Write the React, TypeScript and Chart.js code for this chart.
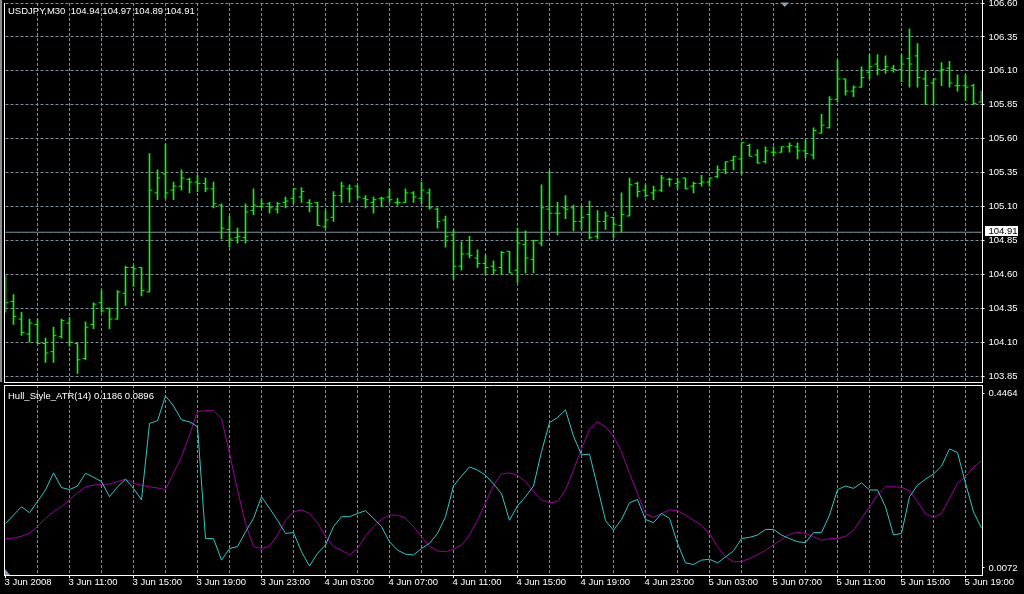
import React, { useEffect, useRef } from "react";
import { Chart, registerables } from "chart.js";
Chart.register(...registerables);

// ---------------- data ----------------
const SYMBOL_TEXT = "USDJPY,M30";
const QUOTE_TEXT = ["104.94", "104.97", "104.89", "104.91"];
const BID = 104.91;

const OPEN = [104.40,104.40,104.27,104.16,104.23,104.09,104.03,104.14,104.24,104.09,
103.98,104.23,104.39,104.35,104.27,104.46,104.65,104.65,104.47,105.20,
105.34,105.22,105.25,105.30,105.28,105.27,105.23,105.11,104.93,104.87,
104.87,105.07,105.10,105.12,105.08,105.13,105.16,105.17,105.13,105.13,
104.95,105.02,105.18,105.23,105.25,105.16,105.13,105.16,105.17,105.13,
105.13,105.20,105.16,105.20,105.08,105.00,104.89,104.66,104.75,104.72,
104.68,104.66,104.65,104.77,104.63,104.82,104.71,104.83,105.08,105.05,
105.09,105.09,104.99,105.04,104.88,104.99,105.02,104.96,105.03,105.27,
105.22,105.20,105.22,105.30,105.27,105.31,105.25,105.27,105.28,105.32,
105.37,105.44,105.45,105.55,105.48,105.43,105.50,105.50,105.54,105.54,
105.51,105.48,105.64,105.68,105.89,106.04,105.95,105.98,106.09,106.15,
106.11,106.12,106.11,106.19,106.21,106.04,106.01,106.10,106.12,105.99,
105.99,105.99,105.87];

const HIGH = [104.59,104.45,104.32,104.27,104.27,104.13,104.21,104.27,104.28,104.09,
104.25,104.39,104.48,104.35,104.48,104.66,104.66,104.65,105.49,105.37,
105.56,105.28,105.37,105.31,105.33,105.31,105.28,105.12,105.03,104.94,
105.12,105.23,105.15,105.13,105.13,105.17,105.23,105.24,105.15,105.13,
105.07,105.21,105.28,105.26,105.25,105.18,105.17,105.17,105.23,105.16,
105.23,105.21,105.28,105.23,105.09,105.03,104.93,104.84,104.88,104.78,
104.74,104.70,104.77,104.77,104.94,104.92,104.85,105.26,105.36,105.13,
105.18,105.11,105.10,105.14,105.07,105.06,105.02,105.20,105.31,105.28,
105.26,105.25,105.33,105.31,105.31,105.31,105.28,105.33,105.31,105.40,
105.43,105.47,105.57,105.56,105.52,105.54,105.54,105.54,105.57,105.57,
105.59,105.68,105.78,105.91,106.18,106.04,105.99,106.13,106.22,106.22,
106.21,106.14,106.22,106.41,106.30,106.10,106.04,106.16,106.17,106.07,
106.07,106.00,105.95];

const LOW = [104.32,104.23,104.15,104.10,104.09,103.95,103.95,104.13,104.07,103.87,
103.97,104.20,104.32,104.20,104.27,104.37,104.51,104.44,104.47,105.15,
105.16,105.15,105.22,105.20,105.21,105.21,105.09,104.86,104.80,104.83,
104.83,105.04,105.09,105.05,105.05,105.09,105.12,105.13,105.06,104.96,
104.94,104.99,105.13,105.13,105.16,105.09,105.05,105.10,105.13,105.11,
105.13,105.13,105.12,105.08,104.94,104.80,104.56,104.63,104.72,104.65,
104.60,104.60,104.60,104.61,104.54,104.61,104.61,104.81,104.93,104.89,
105.01,104.92,104.93,104.86,104.86,104.93,104.87,104.91,105.03,105.17,
105.17,105.15,105.21,105.25,105.23,105.23,105.20,105.25,105.25,105.31,
105.34,105.37,105.34,105.47,105.42,105.42,105.47,105.50,105.50,105.45,
105.46,105.45,105.64,105.68,105.87,105.92,105.91,105.98,106.04,106.07,
106.08,106.09,106.02,105.98,105.98,105.85,105.85,105.99,105.98,105.95,
105.88,105.85,105.87];

const CLOSE = [104.39,104.29,104.17,104.24,104.09,104.02,104.15,104.26,104.10,103.97,
104.21,104.38,104.33,104.27,104.47,104.65,104.64,104.48,105.22,105.31,
105.20,105.25,105.31,105.28,105.27,105.23,105.12,104.94,104.86,104.88,
105.06,105.11,105.12,105.09,105.12,105.14,105.23,105.21,105.12,104.96,
105.00,105.18,105.25,105.23,105.17,105.15,105.15,105.16,105.15,105.13,
105.20,105.17,105.22,105.09,104.99,104.88,104.66,104.75,104.74,104.68,
104.65,104.63,104.76,104.61,104.83,104.72,104.85,105.09,105.05,105.05,
105.08,104.99,105.02,104.87,104.99,105.03,104.97,105.04,105.26,105.21,
105.18,105.22,105.31,105.30,105.28,105.23,105.27,105.28,105.31,105.37,
105.43,105.47,105.57,105.47,105.42,105.51,105.50,105.54,105.55,105.51,
105.49,105.66,105.70,105.89,106.04,105.95,105.98,106.05,106.13,106.11,
106.13,106.11,106.15,106.15,106.05,105.99,106.04,106.11,106.01,105.99,
105.98,105.86,105.92];

const PRICE_TICKS = [103.85, 104.10, 104.35, 104.60, 104.85, 105.10, 105.35, 105.60, 105.85, 106.10, 106.35, 106.60];

const ATR_TITLE = "Hull_Style_ATR(14)";
const ATR_VALUES_TEXT = ["0.1186", "0.0896"];

const ATR_FAST = [0.119,0.140,0.161,0.146,0.174,0.203,0.246,0.209,0.204,0.213,
0.245,0.235,0.224,0.186,0.211,0.230,0.207,0.178,0.370,0.377,
0.439,0.414,0.379,0.374,0.362,0.081,0.081,0.027,0.056,0.061,
0.098,0.132,0.186,0.157,0.127,0.094,0.096,0.048,0.012,0.044,
0.065,0.111,0.136,0.136,0.144,0.151,0.132,0.111,0.073,0.052,
0.042,0.040,0.056,0.069,0.094,0.136,0.213,0.238,0.261,0.253,
0.240,0.218,0.194,0.127,0.163,0.186,0.213,0.299,0.372,0.385,
0.404,0.338,0.291,0.293,0.211,0.126,0.102,0.129,0.171,0.179,
0.129,0.121,0.144,0.132,0.069,0.020,0.016,0.027,0.029,0.020,
0.035,0.050,0.081,0.084,0.090,0.104,0.104,0.090,0.081,0.073,
0.071,0.096,0.096,0.140,0.204,0.213,0.207,0.221,0.203,0.203,
0.161,0.090,0.094,0.186,0.215,0.230,0.243,0.263,0.306,0.297,
0.220,0.148,0.107];

const ATR_SLOW = [0.081,0.082,0.087,0.094,0.111,0.132,0.148,0.161,0.178,0.196,
0.211,0.215,0.217,0.218,0.224,0.230,0.220,0.215,0.211,0.208,
0.204,0.245,0.287,0.341,0.400,0.402,0.402,0.383,0.295,0.203,
0.119,0.061,0.056,0.062,0.090,0.127,0.148,0.153,0.144,0.121,
0.086,0.061,0.052,0.040,0.056,0.087,0.111,0.129,0.140,0.140,
0.132,0.111,0.086,0.062,0.050,0.048,0.054,0.065,0.090,0.127,
0.171,0.215,0.243,0.246,0.240,0.224,0.199,0.178,0.171,0.174,
0.203,0.253,0.307,0.355,0.374,0.362,0.337,0.299,0.245,0.194,
0.144,0.134,0.144,0.153,0.151,0.140,0.127,0.115,0.094,0.061,
0.035,0.023,0.023,0.031,0.040,0.052,0.065,0.079,0.092,0.097,
0.094,0.086,0.077,0.081,0.081,0.087,0.101,0.132,0.161,0.190,
0.211,0.211,0.210,0.201,0.174,0.143,0.134,0.144,0.182,0.220,
0.236,0.260,0.276];

const ATR_TICKS = [0.0072, 0.4464];

const TIME_LABELS = ["3 Jun 2008", "3 Jun 11:00", "3 Jun 15:00", "3 Jun 19:00", "3 Jun 23:00",
  "4 Jun 03:00", "4 Jun 07:00", "4 Jun 11:00", "4 Jun 15:00", "4 Jun 19:00", "4 Jun 23:00",
  "5 Jun 03:00", "5 Jun 07:00", "5 Jun 11:00", "5 Jun 15:00", "5 Jun 19:00"];
const TIME_LABEL_STEP = 8;
const GRID_STEP = 4;

// ---------------- styling / layout ----------------
const FAMILY = '"Liberation Sans", Arial, sans-serif';
const FONT_SIZE = 9.5;
const BAR_COLOR = "#10F010";
const GRID_COLOR = "#7f8c9c";
const BID_COLOR = "#8796a8";
const FAST_COLOR = "#2cc8c4";
const SLOW_COLOR = "#9b009b";
const MARK_COLOR = "#8c9bb0";

const W = 1024;
const MAIN_TOP = -20;
const MAIN_H = 422;
const SUB_TOP = 365;
const SUB_H = 229;
const PLOT_LEFT = 5.5;
const AXIS_W = 42.5;
const PRICE_MIN = 103.806;
const PRICE_MAX = 106.6;
const ATR_MIN = -0.0104;
const ATR_MAX = 0.4665;

const CATEGORIES = OPEN.map((_, i) => i);

const gridColor = (c: any) =>
  c.tick && c.tick.value % GRID_STEP === 0 && c.tick.value !== 0 ? GRID_COLOR : "rgba(0,0,0,0)";

function makeMain(canvas: HTMLCanvasElement) {
  const off = -MAIN_TOP;
  const decor = {
    id: "mainDecor",
    afterDraw(chart: any) {
      const ctx = chart.ctx;
      ctx.save();
      // left gray strip
      ctx.fillStyle = "#8c8c8c";
      ctx.fillRect(0, off, 2, 382);
      // frame
      ctx.strokeStyle = "#ffffff";
      ctx.lineWidth = 1;
      ctx.setLineDash([]);
      ctx.beginPath();
      ctx.moveTo(4.5, off + 3);
      ctx.lineTo(4.5, off + 383);
      ctx.moveTo(4, off + 382.5);
      ctx.lineTo(983, off + 382.5);
      ctx.moveTo(982.5, off + 0);
      ctx.lineTo(982.5, off + 383);
      ctx.stroke();
      // chart shift marker
      ctx.fillStyle = MARK_COLOR;
      ctx.beginPath();
      ctx.moveTo(780.5, off + 2.5);
      ctx.lineTo(789, off + 2.5);
      ctx.lineTo(784.75, off + 7);
      ctx.closePath();
      ctx.fill();
      // title
      ctx.font = `${FONT_SIZE}px ${FAMILY}`;
      ctx.fillStyle = "#ffffff";
      ctx.textAlign = "left";
      ctx.textBaseline = "alphabetic";
      let x = 8;
      ctx.fillText(SYMBOL_TEXT, x, off + 14);
      x += ctx.measureText(SYMBOL_TEXT + "  ").width;
      QUOTE_TEXT.forEach((t) => {
        ctx.fillText(t, x, off + 14);
        x += ctx.measureText(t + " ").width;
      });
      // bid label
      const yb = Math.round(chart.scales.y.getPixelForValue(BID));
      ctx.fillStyle = "#ffffff";
      ctx.fillRect(985, yb - 6, 33, 10);
      ctx.fillStyle = "#000000";
      ctx.textBaseline = "middle";
      ctx.fillText(BID.toFixed(2), 988.5, yb - 0.5);
      ctx.restore();
    },
  };

  return new Chart(canvas, {
    type: "bar",
    data: {
      labels: CATEGORIES,
      datasets: [
        {
          type: "bar",
          data: LOW.map((l, i) => [l, HIGH[i]]),
          backgroundColor: BAR_COLOR,
          borderWidth: 0,
          barThickness: 1,
          order: 1,
        } as any,
        {
          type: "line",
          data: OPEN,
          showLine: false,
          pointStyle: "dash",
          pointRotation: 180,
          pointRadius: 3,
          pointHoverRadius: 3,
          pointBorderColor: BAR_COLOR,
          pointBackgroundColor: BAR_COLOR,
          pointBorderWidth: 1,
          clip: 0,
          order: 0,
        } as any,
        {
          type: "line",
          data: CLOSE,
          showLine: false,
          pointStyle: "dash",
          pointRotation: 0,
          pointRadius: 3,
          pointHoverRadius: 3,
          pointBorderColor: BAR_COLOR,
          pointBackgroundColor: BAR_COLOR,
          pointBorderWidth: 1,
          clip: 0,
          order: 0,
        } as any,
        {
          type: "line",
          data: CATEGORIES.map(() => BID),
          borderColor: BID_COLOR,
          borderWidth: 1,
          pointRadius: 0,
          order: 5,
        } as any,
      ],
    },
    options: {
      animation: false,
      responsive: false,
      events: [],
      layout: { padding: { left: PLOT_LEFT, right: 0, top: 3 + off, bottom: 20 } },
      plugins: { legend: { display: false }, tooltip: { enabled: false } },
      scales: {
        x: {
          type: "category",
          offset: false,
          afterBuildTicks: (s: any) => {
            s.ticks = s.ticks.filter((t: any) => t.value % GRID_STEP === 0);
          },
          ticks: { display: false },
          grid: { offset: false, drawTicks: false, color: gridColor, lineWidth: 1 },
          border: { display: false, dash: [3, 2] },
        },
        y: {
          type: "linear",
          position: "right",
          min: PRICE_MIN,
          max: PRICE_MAX,
          bounds: "data",
          afterBuildTicks: (s: any) => {
            s.ticks = PRICE_TICKS.map((v) => ({ value: v }));
          },
          afterFit: (s: any) => {
            s.width = AXIS_W;
          },
          ticks: {
            color: "#ffffff",
            font: { family: FAMILY, size: FONT_SIZE },
            padding: 4,
            callback: (v: any) => Number(v).toFixed(2),
          },
          grid: {
            color: GRID_COLOR,
            drawTicks: true,
            tickLength: 3,
            tickColor: "#ffffff",
            tickWidth: 1,
            tickBorderDash: [],
          },
          border: { display: false, dash: [3, 2] },
        },
      },
    } as any,
    plugins: [decor],
  });
}

function makeSub(canvas: HTMLCanvasElement) {
  const off = -SUB_TOP; // page y = canvas y + SUB_TOP
  const decor = {
    id: "subDecor",
    afterDraw(chart: any) {
      const ctx = chart.ctx;
      ctx.save();
      ctx.strokeStyle = "#ffffff";
      ctx.lineWidth = 1;
      ctx.setLineDash([]);
      ctx.beginPath();
      ctx.moveTo(4, 385.5 + off);
      ctx.lineTo(983, 385.5 + off);
      ctx.moveTo(4, 575.5 + off);
      ctx.lineTo(983, 575.5 + off);
      ctx.moveTo(4.5, 385 + off);
      ctx.lineTo(4.5, 576 + off);
      ctx.moveTo(982.5, 385 + off);
      ctx.lineTo(982.5, 576 + off);
      ctx.stroke();
      // scroll marker
      ctx.fillStyle = MARK_COLOR;
      ctx.beginPath();
      ctx.moveTo(5, 569 + off);
      ctx.lineTo(5, 575 + off);
      ctx.lineTo(10, 575 + off);
      ctx.closePath();
      ctx.fill();
      // title
      ctx.font = `${FONT_SIZE}px ${FAMILY}`;
      ctx.fillStyle = "#ffffff";
      ctx.textAlign = "left";
      ctx.textBaseline = "alphabetic";
      let x = 8;
      ctx.fillText(ATR_TITLE, x, 399 + off);
      x += ctx.measureText(ATR_TITLE + " ").width;
      ATR_VALUES_TEXT.forEach((t) => {
        ctx.fillText(t, x, 399 + off);
        x += ctx.measureText(t + " ").width;
      });
      ctx.restore();
    },
  };

  return new Chart(canvas, {
    type: "line",
    data: {
      labels: CATEGORIES,
      datasets: [
        {
          data: ATR_FAST,
          borderColor: FAST_COLOR,
          borderWidth: 1,
          pointRadius: 0,
          tension: 0,
        },
        {
          data: ATR_SLOW,
          borderColor: SLOW_COLOR,
          borderWidth: 1,
          pointRadius: 0,
          tension: 0,
        },
      ],
    },
    options: {
      animation: false,
      responsive: false,
      events: [],
      layout: { padding: { left: PLOT_LEFT, right: 0, top: 385 + off, bottom: 0 } },
      plugins: { legend: { display: false }, tooltip: { enabled: false } },
      scales: {
        x: {
          type: "category",
          offset: false,
          afterBuildTicks: (s: any) => {
            s.ticks = s.ticks.filter((t: any) => t.value % GRID_STEP === 0);
          },
          afterFit: (s: any) => {
            s.height = 19;
          },
          ticks: {
            autoSkip: false,
            maxRotation: 0,
            minRotation: 0,
            align: "start",
            padding: -1,
            labelOffset: -1,
            color: "#ffffff",
            font: { family: FAMILY, size: FONT_SIZE },
            callback: (v: any) =>
              v % TIME_LABEL_STEP === 0 ? TIME_LABELS[v / TIME_LABEL_STEP] ?? "" : "",
          },
          grid: {
            offset: false,
            color: gridColor,
            drawTicks: true,
            tickLength: 3,
            tickWidth: 1,
            tickBorderDash: [],
            tickColor: (c: any) =>
              c.tick && c.tick.value % TIME_LABEL_STEP === 0 ? "#ffffff" : "rgba(0,0,0,0)",
          },
          border: { display: false, dash: [3, 2] },
        },
        y: {
          type: "linear",
          position: "right",
          min: ATR_MIN,
          max: ATR_MAX,
          bounds: "data",
          afterBuildTicks: (s: any) => {
            s.ticks = ATR_TICKS.map((v) => ({ value: v }));
          },
          afterFit: (s: any) => {
            s.width = AXIS_W;
          },
          ticks: {
            color: "#ffffff",
            font: { family: FAMILY, size: FONT_SIZE },
            padding: 4,
            callback: (v: any) => Number(v).toFixed(4),
          },
          grid: {
            drawOnChartArea: false,
            drawTicks: true,
            tickLength: 3,
            tickColor: "#ffffff",
            tickBorderDash: [],
          },
          border: { display: false },
        },
      },
    } as any,
    plugins: [decor],
  });
}

export default function App() {
  const mainRef = useRef<HTMLCanvasElement>(null);
  const subRef = useRef<HTMLCanvasElement>(null);

  useEffect(() => {
    const a = makeMain(mainRef.current!);
    const b = makeSub(subRef.current!);
    return () => {
      a.destroy();
      b.destroy();
    };
  }, []);

  return (
    <div
      style={{
        position: "fixed",
        left: 0,
        top: 0,
        width: W,
        height: 594,
        background: "#000",
        overflow: "hidden",
      }}
    >
      <canvas
        ref={mainRef}
        width={W}
        height={MAIN_H}
        style={{ position: "absolute", left: 0, top: MAIN_TOP, width: W, height: MAIN_H }}
      />
      <canvas
        ref={subRef}
        width={W}
        height={SUB_H}
        style={{ position: "absolute", left: 0, top: SUB_TOP, width: W, height: SUB_H }}
      />
    </div>
  );
}
